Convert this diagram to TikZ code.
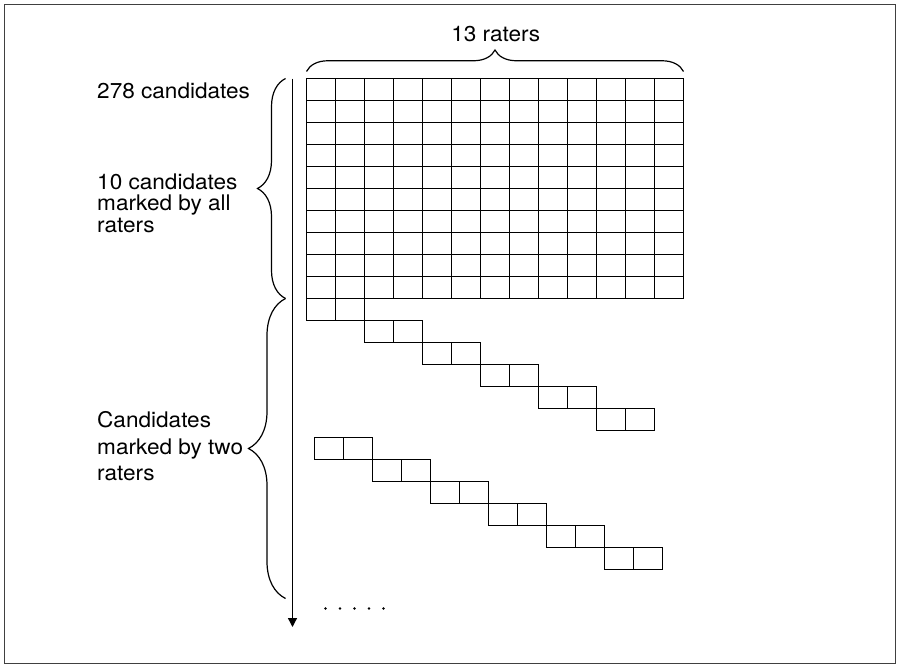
\documentclass[tikz,border=0pt]{standalone}
\usepackage{fontspec}
\setmainfont{TeX Gyre Heros}
\usepackage{graphicx}
\usetikzlibrary{decorations.pathreplacing,arrows.meta}
\newcommand\widetext[1]{\scalebox{1.05}[1]{#1}}
\begin{document}
\begin{tikzpicture}[x=1pt,y=-1pt,
  lbl/.style={anchor=base west,inner sep=0pt,font=\fontsize{21.5}{24}\selectfont},
  cell/.style={draw=black,line width=1.3pt,line join=miter},
  bracket/.style={draw=black,line width=1.2pt,decorate,decoration={brace,amplitude=#1}},
  frameline/.style={draw=black!75,line width=1.3pt},
  axis/.style={draw=black,line width=1.3pt,-{Triangle[length=9pt,width=9pt]}}]
\useasboundingbox (0,0) rectangle (903,664);
\draw[frameline] (4.5,4.5) rectangle (895.5,663.5);

% full grid: 10 candidates x 13 raters
\draw[cell] (306.5,78.5) rectangle (683.5,298.5);
\foreach \r in {1,...,9}
  \draw[cell] (306.5,{78.5+\r*22}) -- (683.5,{78.5+\r*22});
\foreach \c in {1,...,12}
  \draw[cell] ({306.5+\c*29},78.5) -- ({306.5+\c*29},298.5);

% first staircase
\foreach \k in {0,...,5}{
  \draw[cell] ({306.5+2*\k*29},{78.5+(10+\k)*22}) rectangle ++(58,22);
  \draw[cell] ({306.5+(2*\k+1)*29},{78.5+(10+\k)*22}) -- ++(0,22);
}

% second staircase
\foreach \k in {0,...,5}{
  \draw[cell] ({314.5+2*\k*29},{437.5+\k*22}) rectangle ++(58,22);
  \draw[cell] ({314.5+(2*\k+1)*29},{437.5+\k*22}) -- ++(0,22);
}

% axis
\coordinate (axtop) at (292.5,78.5);
\coordinate (axend) at (292.5,627);
\draw[axis] (axtop) -- (axend);

% dots
\foreach \i in {0,...,4}
  \fill (325.5+\i*14.5,608.5) circle (1.3);

% braces
\coordinate (tb1) at (306.5,71.5);
\coordinate (tb2) at (683.5,71.5);
\draw[bracket=21.5] (tb1) -- (tb2);
\coordinate (lb1a) at (285.5,298.5);
\coordinate (lb1b) at (285.5,78.5);
\draw[bracket=28] (lb1a) -- (lb1b);
\coordinate (lb2a) at (285.5,598.5);
\coordinate (lb2b) at (285.5,298.5);
\draw[bracket=37] (lb2a) -- (lb2b);

% labels
\node[lbl,anchor=base] (raters) at (495.7,41.7) {\widetext{13 raters}};
\node[lbl] (total) at (97,98.3) {\widetext{278 candidates}};
\node[lbl] (all1) at (97,189) {\widetext{10 candidates}};
\node[lbl] (all2) at (97,210.5) {\widetext{marked by all}};
\node[lbl] (all3) at (97,232) {\widetext{raters}};
\node[lbl] (two1) at (97,427.5) {\widetext{Candidates}};
\node[lbl] (two2) at (97,454) {\widetext{marked by two}};
\node[lbl] (two3) at (97,480.5) {\widetext{raters}};
\end{tikzpicture}
\end{document}
